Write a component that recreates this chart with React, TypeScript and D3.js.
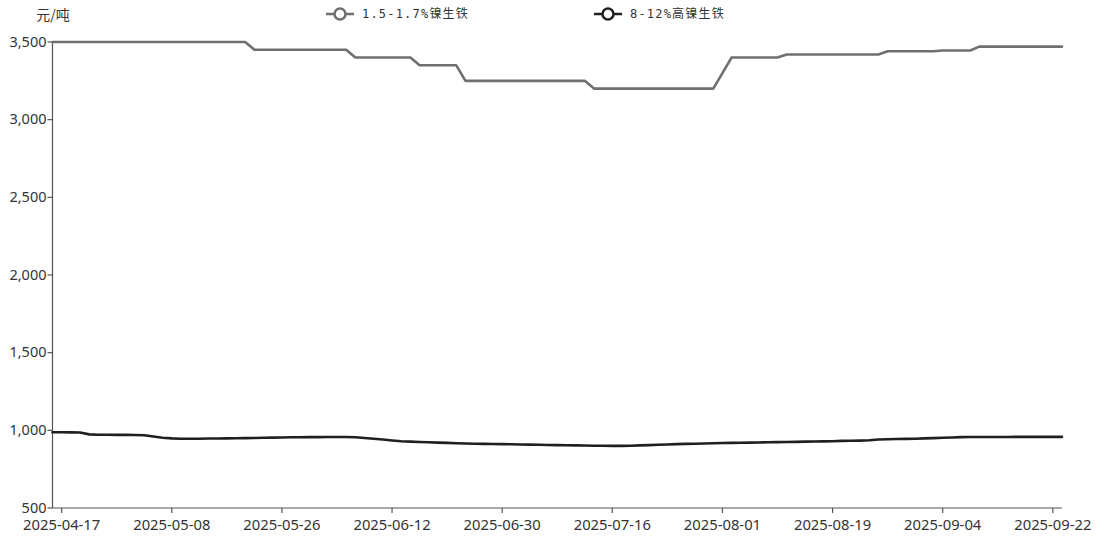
import { scalePoint, scaleLinear, line as d3_line, format } from "d3";

// trading days, 2025-04-16 .. 2025-09-23
const dates = [
  "2025-04-16", "2025-04-17", "2025-04-18", "2025-04-21", "2025-04-22", "2025-04-23", "2025-04-24", "2025-04-25",
  "2025-04-28", "2025-04-29", "2025-04-30", "2025-05-06", "2025-05-07", "2025-05-08", "2025-05-09", "2025-05-12",
  "2025-05-13", "2025-05-14", "2025-05-15", "2025-05-16", "2025-05-19", "2025-05-20", "2025-05-21", "2025-05-22",
  "2025-05-23", "2025-05-26", "2025-05-27", "2025-05-28", "2025-05-29", "2025-05-30", "2025-06-03", "2025-06-04",
  "2025-06-05", "2025-06-06", "2025-06-09", "2025-06-10", "2025-06-11", "2025-06-12", "2025-06-13", "2025-06-16",
  "2025-06-17", "2025-06-18", "2025-06-19", "2025-06-20", "2025-06-23", "2025-06-24", "2025-06-25", "2025-06-26",
  "2025-06-27", "2025-06-30", "2025-07-01", "2025-07-02", "2025-07-03", "2025-07-04", "2025-07-07", "2025-07-08",
  "2025-07-09", "2025-07-10", "2025-07-11", "2025-07-14", "2025-07-15", "2025-07-16", "2025-07-17", "2025-07-18",
  "2025-07-21", "2025-07-22", "2025-07-23", "2025-07-24", "2025-07-25", "2025-07-28", "2025-07-29", "2025-07-30",
  "2025-07-31", "2025-08-01", "2025-08-04", "2025-08-05", "2025-08-06", "2025-08-07", "2025-08-08", "2025-08-11",
  "2025-08-12", "2025-08-13", "2025-08-14", "2025-08-15", "2025-08-18", "2025-08-19", "2025-08-20", "2025-08-21",
  "2025-08-22", "2025-08-25", "2025-08-26", "2025-08-27", "2025-08-28", "2025-08-29", "2025-09-01", "2025-09-02",
  "2025-09-03", "2025-09-04", "2025-09-05", "2025-09-08", "2025-09-09", "2025-09-10", "2025-09-11", "2025-09-12",
  "2025-09-15", "2025-09-16", "2025-09-17", "2025-09-18", "2025-09-19", "2025-09-22", "2025-09-23",
];

// 1.5-1.7%镍生铁
const lowNickel = [
  3500, 3500, 3500, 3500, 3500, 3500, 3500, 3500, 3500, 3500, 3500, 3500, 3500, 3500, 3500, 3500,
  3500, 3500, 3500, 3500, 3500, 3500, 3450, 3450, 3450, 3450, 3450, 3450, 3450, 3450, 3450, 3450,
  3450, 3400, 3400, 3400, 3400, 3400, 3400, 3400, 3350, 3350, 3350, 3350, 3350, 3250, 3250, 3250,
  3250, 3250, 3250, 3250, 3250, 3250, 3250, 3250, 3250, 3250, 3250, 3200, 3200, 3200, 3200, 3200,
  3200, 3200, 3200, 3200, 3200, 3200, 3200, 3200, 3200, 3300, 3400, 3400, 3400, 3400, 3400, 3400,
  3420, 3420, 3420, 3420, 3420, 3420, 3420, 3420, 3420, 3420, 3420, 3440, 3440, 3440, 3440, 3440,
  3440, 3445, 3445, 3445, 3445, 3470, 3470, 3470, 3470, 3470, 3470, 3470, 3470, 3470, 3470,
];

// 8-12%高镍生铁
const highNickel = [
  988, 988, 987, 986, 974, 972, 972, 971, 971, 970, 968, 960, 952, 948, 946, 946,
  946, 947, 947, 948, 949, 950, 951, 952, 953, 954, 955, 955, 956, 956, 957, 957,
  957, 955, 951, 946, 941, 935, 930, 927, 925, 923, 921, 919, 917, 915, 914, 913,
  912, 911, 910, 909, 908, 907, 906, 905, 904, 903, 902, 901, 901, 900, 900, 901,
  903, 905, 907, 909, 911, 913, 914, 915, 917, 918, 919, 920, 921, 922, 923, 924,
  925, 926, 927, 928, 929, 930, 932, 933, 934, 936, 941, 943, 944, 945, 946, 948,
  950, 952, 954, 956, 957, 957, 957, 957, 957, 958, 958, 958, 958, 958, 958,
];

const xTickLabels = [
  "2025-04-17", "2025-05-08", "2025-05-26", "2025-06-12", "2025-06-30",
  "2025-07-16", "2025-08-01", "2025-08-19", "2025-09-04", "2025-09-22",
];
const yTicks = [500, 1000, 1500, 2000, 2500, 3000, 3500];
const unitLabel = "元/吨";

const series = [
  { name: "1.5-1.7%镍生铁", values: lowNickel, color: "#6f6f6f", legendX: 340 },
  { name: "8-12%高镍生铁", values: highNickel, color: "#1f1f1f", legendX: 608 },
];

const W = 1104;
const H = 540;
const axisColor = "#555";
const textColor = "#333";
const font = "'Noto Sans', 'Open Sans', sans-serif";

export default function App() {
  const x = scalePoint<string>().domain(dates).range([52.5, 1062]).padding(0);
  const y = scaleLinear().domain([500, 3500]).range([508, 42]);
  const fmt = format(",");

  const line = d3_line<number>()
    .x((_, i) => x(dates[i]) ?? 0)
    .y((v) => y(v));

  const [x0, x1] = x.range();
  const [yBottom, yTop] = y.range();

  return (
    <div style={{ position: "absolute", left: 0, top: 0 }}>
      <svg width={W} height={H} style={{ display: "block", background: "#fff" }}>
        {/* unit */}
        <text x={53} y={20} textAnchor="middle" fontSize={14} fill={textColor} fontFamily="'Noto Sans CJK SC', sans-serif">
          {unitLabel}
        </text>

        {/* legend */}
        {series.map((s) => (
          <g key={s.name} transform={`translate(${s.legendX},14)`}>
            <line x1={-14} x2={14} y1={0} y2={0} stroke={s.color} strokeWidth={2.5} />
            <circle r={5.5} fill="#fff" stroke={s.color} strokeWidth={2.5} />
            <text
              x={22}
              y={0}
              dy="0.35em"
              fontSize={12}
              letterSpacing={1.2}
              fill={textColor}
              fontFamily="'DejaVu Sans Mono', 'Noto Sans CJK SC', monospace"
            >
              {s.name}
            </text>
          </g>
        ))}

        {/* Y axis */}
        <line x1={x0} x2={x0} y1={yTop} y2={yBottom} stroke={axisColor} strokeWidth={1.2} />
        {yTicks.map((t) => (
          <g key={t} transform={`translate(0,${y(t)})`}>
            <line x1={x0 - 5} x2={x0} stroke={axisColor} strokeWidth={1.2} />
            <text x={x0 - 6} dy="0.32em" textAnchor="end" fontSize={14.5} fill={textColor} fontFamily={font}>
              {fmt(t)}
            </text>
          </g>
        ))}

        {/* X axis */}
        <line x1={x0} x2={x1} y1={yBottom} y2={yBottom} stroke={axisColor} strokeWidth={1.2} />
        {xTickLabels.map((d) => {
          const px = x(d) ?? 0;
          return (
            <g key={d} transform={`translate(${px},${yBottom})`}>
              <line y1={0} y2={5} stroke={axisColor} strokeWidth={1.2} />
              <text y={22} textAnchor="middle" fontSize={14.8} fill={textColor} fontFamily={font}>
                {d}
              </text>
            </g>
          );
        })}

        {/* lines */}
        {series.map((s) => (
          <path
            key={s.name}
            d={line(s.values) ?? ""}
            fill="none"
            stroke={s.color}
            strokeWidth={2.6}
            strokeLinejoin="round"
            strokeLinecap="round"
          />
        ))}
      </svg>
    </div>
  );
}
